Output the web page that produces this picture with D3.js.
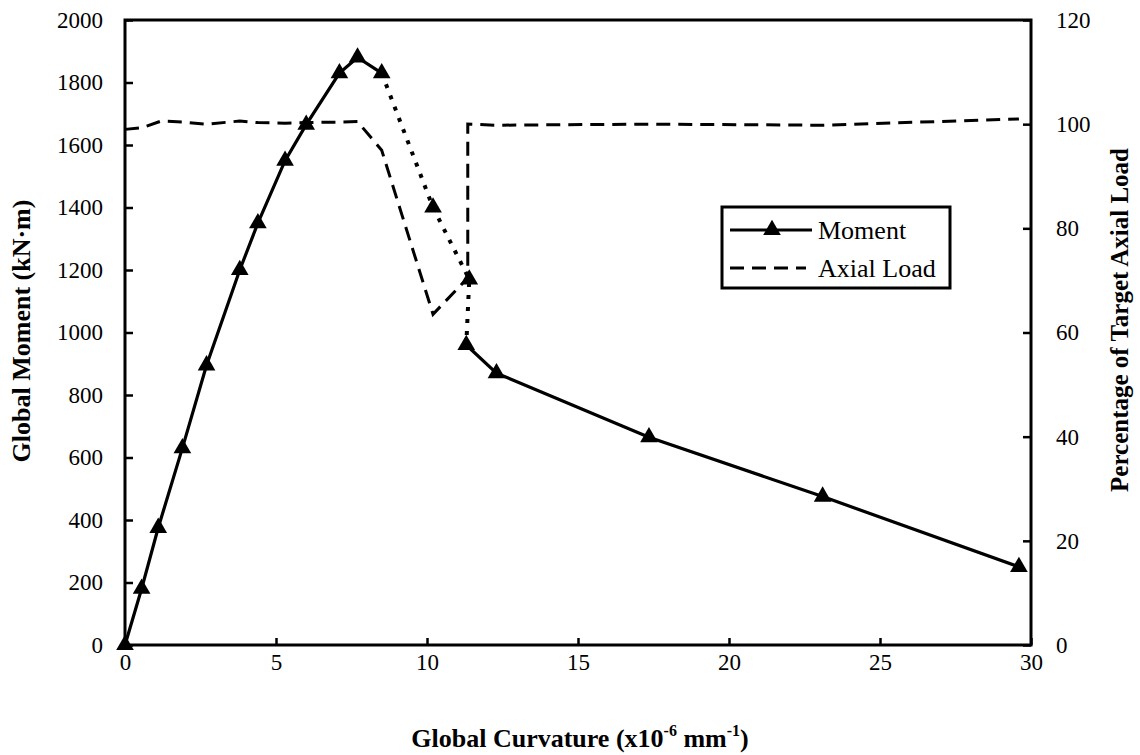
<!DOCTYPE html>
<html>
<head>
<meta charset="utf-8">
<script src="https://cdn.jsdelivr.net/npm/d3@7"></script>
<style>
  body { margin: 0; background: #fff; }
  svg text { font-family: "Liberation Serif", "Times New Roman", serif; fill: #000; }
</style>
</head>
<body>
<div id="chart"></div>
<script>
// moment vs curvature (left axis)
const curvature = [0, 0.55, 1.1, 1.9, 2.7, 3.8, 4.4, 5.3, 6.0, 7.1, 7.7, 8.5, 10.2, 11.4, 11.3, 12.3, 17.35, 23.1, 29.6];
const moment = [0, 180, 375, 630, 895, 1200, 1350, 1550, 1665, 1830, 1880, 1830, 1400, 1170, 960, 870, 665, 475, 250];

// axial load vs curvature (right axis)
const axialCurvature = [0, 0.55, 1.2, 1.9, 2.7, 3.8, 4.4, 5.3, 6.0, 7.1, 7.7, 8.5, 10.2, 11.35, 11.35, 12.3, 17.35, 23.1, 29.6];
const axialLoad = [99, 99.3, 100.6, 100.4, 100, 100.6, 100.3, 100.2, 100.3, 100.4, 100.5, 95, 63.5, 70.5, 100, 99.8, 100, 99.8, 101];

// ticks
const xTicks = [0, 5, 10, 15, 20, 25, 30];
const yTicks = [0, 200, 400, 600, 800, 1000, 1200, 1400, 1600, 1800, 2000];
const y2Ticks = [0, 20, 40, 60, 80, 100, 120];

// legend entries
const legendItems = ["Moment", "Axial Load"];

const width = 1140,
    height = 755,
    margin = { top: 20, right: 109, bottom: 110, left: 125 };

const svg = d3.select("#chart")
    .append("svg")
    .attr("width", width)
    .attr("height", height);

// scales
const x = d3.scaleLinear().domain([0, 30]).range([margin.left, width - margin.right]);
const y = d3.scaleLinear().domain([0, 2000]).range([height - margin.bottom, margin.top]);
const y2 = d3.scaleLinear().domain([0, 120]).range([height - margin.bottom, margin.top]);

// axes, ticks pointing inward
const fmt = d3.format("d");
const xAxis = d3.axisBottom(x).tickValues(xTicks).tickFormat(fmt).tickSizeInner(-7).tickSizeOuter(0).tickPadding(8);
const yAxis = d3.axisLeft(y).tickValues(yTicks).tickFormat(fmt).tickSizeInner(-8).tickSizeOuter(0).tickPadding(22);
const y2Axis = d3.axisRight(y2).tickValues(y2Ticks).tickFormat(fmt).tickSizeInner(-8).tickSizeOuter(0).tickPadding(25);

function styleAxis(g) {
    g.select(".domain").remove();
    g.selectAll(".tick line").attr("stroke", "#000").attr("stroke-width", 2.5);
    g.selectAll(".tick text").style("font-size", "23px").attr("fill", "#000");
}

svg.append("g")
    .attr("transform", "translate(0," + (height - margin.bottom) + ")")
    .call(xAxis)
    .call(styleAxis)
    .selectAll(".tick text").attr("dy", "0.75em");

svg.append("g")
    .attr("transform", "translate(" + margin.left + ",0)")
    .call(yAxis)
    .call(styleAxis);

svg.append("g")
    .attr("transform", "translate(" + (width - margin.right) + ",0)")
    .call(y2Axis)
    .call(styleAxis);

// frame
svg.append("rect")
    .attr("x", margin.left)
    .attr("y", margin.top)
    .attr("width", width - margin.left - margin.right)
    .attr("height", height - margin.top - margin.bottom)
    .attr("fill", "none")
    .attr("stroke", "#000")
    .attr("stroke-width", 3);

// axial load line (dashed)
const axialData = axialCurvature.map((c, i) => [c, axialLoad[i]]);
svg.append("path")
    .datum(axialData)
    .attr("fill", "none")
    .attr("stroke", "#000")
    .attr("stroke-width", 3)
    .attr("stroke-dasharray", "14,8")
    .attr("d", d3.line().x(d => x(d[0])).y(d => y2(d[1])));

// moment line: solid, dotted through the drop, solid again
const momentData = curvature.map((c, i) => [c, moment[i]]);
const momentLine = d3.line().x(d => x(d[0])).y(d => y(d[1]));
const pieces = [
    { from: 0, to: 11, dash: null },
    { from: 11, to: 14, dash: "4,8" },
    { from: 14, to: 18, dash: null }
];
pieces.forEach(p => {
    svg.append("path")
        .datum(momentData.slice(p.from, p.to + 1))
        .attr("fill", "none")
        .attr("stroke", "#000")
        .attr("stroke-width", p.dash ? 4 : 3.2)
        .attr("stroke-dasharray", p.dash)
        .attr("d", momentLine);
});

// triangle markers
const tri = d3.symbol().type(d3.symbolTriangle).size(135);
svg.selectAll(".marker")
    .data(momentData)
    .enter()
    .append("path")
    .attr("class", "marker")
    .attr("d", tri)
    .attr("transform", d => `translate(${x(d[0])},${y(d[1])})`)
    .attr("fill", "#000");

// axis titles
svg.append("text")
    .attr("x", 580)
    .attr("y", 747)
    .attr("text-anchor", "middle")
    .style("font-size", "26px")
    .style("font-weight", "bold")
    .call(t => {
        t.append("tspan").text("Global Curvature (x10");
        t.append("tspan").attr("dy", -11).style("font-size", "16px").text("-6");
        t.append("tspan").attr("dy", 11).text(" mm");
        t.append("tspan").attr("dy", -11).style("font-size", "16px").text("-1");
        t.append("tspan").attr("dy", 11).text(")");
    });

svg.append("text")
    .attr("transform", "translate(30,331) rotate(-90)")
    .attr("text-anchor", "middle")
    .style("font-size", "26px")
    .style("font-weight", "bold")
    .text("Global Moment (kN·m)");

svg.append("text")
    .attr("transform", "translate(1128,320) rotate(-90)")
    .attr("text-anchor", "middle")
    .style("font-size", "25px")
    .style("font-weight", "bold")
    .text("Percentage of Target Axial Load");

// legend
const legend = svg.append("g").attr("id", "legend");
legend.append("rect")
    .attr("x", 722)
    .attr("y", 207)
    .attr("width", 228)
    .attr("height", 81)
    .attr("fill", "#fff")
    .attr("stroke", "#000")
    .attr("stroke-width", 3);

const rows = legend.selectAll(".legend-row")
    .data(legendItems)
    .enter()
    .append("g")
    .attr("class", "legend-row")
    .attr("transform", (d, i) => `translate(730,${230 + i * 38})`);

rows.append("line")
    .attr("x1", 0)
    .attr("x2", (d, i) => i === 0 ? 82 : 76)
    .attr("stroke", "#000")
    .attr("stroke-width", 3)
    .attr("stroke-dasharray", (d, i) => i === 0 ? null : "14,8");

rows.filter((d, i) => i === 0)
    .append("path")
    .attr("d", tri)
    .attr("transform", "translate(42,0)")
    .attr("fill", "#000");

rows.append("text")
    .attr("x", 88)
    .attr("dy", "0.35em")
    .style("font-size", "26px")
    .text(d => d);
</script>
</body>
</html>
